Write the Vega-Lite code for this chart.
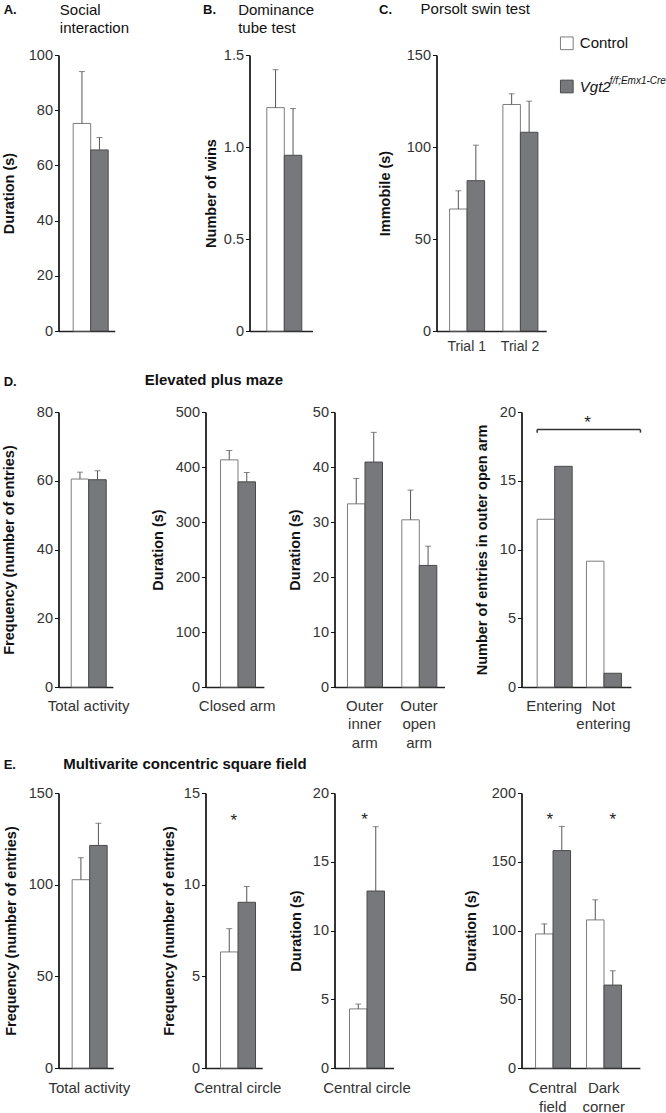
{
  "$schema": "https://vega.github.io/schema/vega-lite/v6.json",
  "background": "white",
  "padding": {"left": 0.5, "top": 1, "right": 0, "bottom": 0},
  "autosize": {"type": "pad"},
  "bounds": "flush",
  "columns": 7,
  "align": "each",
  "spacing": {"row": 81, "column": 0},
  "config": {
    "view": {"stroke": null},
    "font": "Liberation Sans",
    "axis": {"grid": false, "domainColor": "#111111", "domainWidth": 1.7, "tickColor": "#111111", "tickWidth": 1, "tickSize": 4, "labelColor": "#333333", "labelFont": "Liberation Sans", "labelFontSize": 14.5, "labelPadding": 2, "titleFont": "Liberation Sans", "titleFontSize": 14.5, "titleFontWeight": "bold", "titleColor": "#111111"},
    "axisX": {"ticks": false, "labelAngle": 0, "labelLineHeight": 18.3, "domainWidth": 1.5, "domainColor": "#222222"},
    "title": {"anchor": "start", "frame": "group", "font": "Liberation Sans", "fontSize": 15, "fontWeight": "normal", "color": "#111111", "lineHeight": 18.4},
    "text": {"font": "Liberation Sans"}
  },
  "datasets": {
    "barsA": [
      {"cat": "all", "group": "Control", "value": 75.2, "err": 94.0},
      {"cat": "all", "group": "Vgt2", "value": 65.6, "err": 70.1}
    ],
    "barsB": [
      {"cat": "all", "group": "Control", "value": 1.214, "err": 1.42},
      {"cat": "all", "group": "Vgt2", "value": 0.955, "err": 1.209}
    ],
    "barsC": [
      {"cat": "Trial 1", "group": "Control", "value": 66.3, "err": 76.2},
      {"cat": "Trial 1", "group": "Vgt2", "value": 81.7, "err": 101.0},
      {"cat": "Trial 2", "group": "Control", "value": 123.1, "err": 128.9},
      {"cat": "Trial 2", "group": "Vgt2", "value": 108.0, "err": 124.9}
    ],
    "barsD1": [
      {"cat": "Total activity", "group": "Control", "value": 60.5, "err": 62.5},
      {"cat": "Total activity", "group": "Vgt2", "value": 60.3, "err": 62.9}
    ],
    "barsD2": [
      {"cat": "Closed arm", "group": "Control", "value": 413, "err": 430},
      {"cat": "Closed arm", "group": "Vgt2", "value": 373, "err": 390}
    ],
    "barsD3": [
      {"cat": "Outer|inner|arm", "group": "Control", "value": 33.3, "err": 37.9},
      {"cat": "Outer|inner|arm", "group": "Vgt2", "value": 40.9, "err": 46.3},
      {"cat": "Outer|open|arm", "group": "Control", "value": 30.4, "err": 35.8},
      {"cat": "Outer|open|arm", "group": "Vgt2", "value": 22.1, "err": 25.6}
    ],
    "barsD4": [
      {"cat": "Entering", "group": "Control", "value": 12.2},
      {"cat": "Entering", "group": "Vgt2", "value": 16.05},
      {"cat": "Not|entering", "group": "Control", "value": 9.15},
      {"cat": "Not|entering", "group": "Vgt2", "value": 1.0}
    ],
    "barsE1": [
      {"cat": "Total activity", "group": "Control", "value": 102.7, "err": 114.7},
      {"cat": "Total activity", "group": "Vgt2", "value": 121.4, "err": 133.5}
    ],
    "barsE2": [
      {"cat": "Central circle", "group": "Control", "value": 6.33, "err": 7.6},
      {"cat": "Central circle", "group": "Vgt2", "value": 9.04, "err": 9.9}
    ],
    "barsE3": [
      {"cat": "Central circle", "group": "Control", "value": 4.3, "err": 4.65},
      {"cat": "Central circle", "group": "Vgt2", "value": 12.87, "err": 17.55}
    ],
    "barsE4": [
      {"cat": "Central|field", "group": "Control", "value": 97.5, "err": 104.8},
      {"cat": "Central|field", "group": "Vgt2", "value": 158.1, "err": 175.7},
      {"cat": "Dark|corner", "group": "Control", "value": 107.7, "err": 122.3},
      {"cat": "Dark|corner", "group": "Vgt2", "value": 60.3, "err": 70.7}
    ],
    "bracketD4": [{"a": "Entering", "b": "Not|entering", "y": 18.72, "y2": 18.5}],
    "starD4": [{"cat": "Not|entering", "value": 19.18}],
    "starE2": [{"cat": "Central circle", "value": 13.46}],
    "starE3": [{"cat": "Central circle", "value": 18.07}],
    "starE4": [{"cat": "Central|field", "value": 180.7}],
    "starE4b": [{"cat": "Dark|corner", "group": "Vgt2", "value": 180.7}],
    "legend": [
      {"group": "Control", "label": "Control", "sup": ""},
      {"group": "Vgt2", "label": "Vgt2", "sup": "f/f;Emx1-Cre"}
    ],
    "empty": []
  },
  "concat": [
    {
      "width": 146.3, "height": 276,
      "title": {"text": ["Social", "interaction"], "dx": 1.3, "offset": -32.65},
      "data": {"name": "barsA"},
      "encoding": {
        "x": {"field": "cat", "type": "nominal", "sort": null, "title": "A.", "scale": {"range": [0, 56.3], "paddingInner": 0, "paddingOuter": 0.304, "align": 0.69}, "axis": {"labels": false, "titleX": -55.3, "titleY": -317.6, "titleAlign": "left", "titleBaseline": "alphabetic", "titleAngle": 0, "titleFontSize": 13}},
        "y": {"field": "value", "type": "quantitative", "title": "Duration (s)", "scale": {"domain": [0, 100]}, "axis": {"values": [0, 20, 40, 60, 80, 100], "titleX": -42}}
      },
      "layer": [
        {"mark": {"type": "bar", "strokeWidth": 1}, "encoding": {"xOffset": {"field": "group", "type": "nominal", "sort": ["Control", "Vgt2"]}, "fill": {"field": "group", "type": "nominal", "scale": {"domain": ["Control", "Vgt2"], "range": ["#ffffff", "#77787b"]}, "legend": null}, "stroke": {"field": "group", "type": "nominal", "scale": {"domain": ["Control", "Vgt2"], "range": ["#7d7d7d", "#4a4a4a"]}, "legend": null}}},
        {"mark": {"type": "rule", "color": "#555555", "strokeWidth": 1}, "encoding": {"xOffset": {"field": "group", "type": "nominal"}, "y2": {"field": "err"}}},
        {"mark": {"type": "tick", "color": "#555555", "size": 6, "thickness": 1}, "encoding": {"xOffset": {"field": "group", "type": "nominal"}, "y": {"field": "err", "type": "quantitative", "title": "Duration (s)"}}}
      ]
    },
    {"width": 43.7, "height": 10, "data": {"name": "empty"}, "mark": {"type": "point", "opacity": 0}},
    {
      "width": 84.7, "height": 276,
      "title": {"text": ["Dominance", "tube test"], "dx": -11.3, "offset": -32.65},
      "data": {"name": "barsB"},
      "encoding": {
        "x": {"field": "cat", "type": "nominal", "sort": null, "title": "B.", "scale": {"range": [0, 63], "paddingInner": 0, "paddingOuter": 0.408, "align": 0.611}, "axis": {"labels": false, "titleX": -47, "titleY": -317.6, "titleAlign": "left", "titleBaseline": "alphabetic", "titleAngle": 0, "titleFontSize": 13}},
        "y": {"field": "value", "type": "quantitative", "title": "Number of wins", "scale": {"domain": [0, 1.5]}, "axis": {"values": [0, 0.5, 1, 1.5], "labelExpr": "datum.value == 0 ? '0' : format(datum.value, '.1f')", "titleX": -30.7}}
      },
      "layer": [
        {"mark": {"type": "bar", "strokeWidth": 1}, "encoding": {"xOffset": {"field": "group", "type": "nominal", "sort": ["Control", "Vgt2"]}, "fill": {"field": "group", "type": "nominal", "scale": {"domain": ["Control", "Vgt2"], "range": ["#ffffff", "#77787b"]}, "legend": null}, "stroke": {"field": "group", "type": "nominal", "scale": {"domain": ["Control", "Vgt2"], "range": ["#7d7d7d", "#4a4a4a"]}, "legend": null}}},
        {"mark": {"type": "rule", "color": "#555555", "strokeWidth": 1}, "encoding": {"xOffset": {"field": "group", "type": "nominal"}, "y2": {"field": "err"}}},
        {"mark": {"type": "tick", "color": "#555555", "size": 6, "thickness": 1}, "encoding": {"xOffset": {"field": "group", "type": "nominal"}, "y": {"field": "err", "type": "quantitative", "title": "Number of wins"}}}
      ]
    },
    {"width": 101.9, "height": 10, "data": {"name": "empty"}, "mark": {"type": "point", "opacity": 0}},
    {
      "width": 84.7, "height": 276,
      "title": {"text": "Porsolt swin test", "dx": -15.9, "offset": -13.15},
      "data": {"name": "barsC"},
      "encoding": {
        "x": {"field": "cat", "type": "nominal", "sort": null, "title": "C.", "scale": {"range": [0, 109.7], "paddingInner": 0.356, "paddingOuter": 0.207, "align": 0.593}, "axis": {"labelFontSize": 14, "labelPadding": 8.2, "titleX": -57.9, "titleY": -317.6, "titleAlign": "left", "titleBaseline": "alphabetic", "titleAngle": 0, "titleFontSize": 13}},
        "y": {"field": "value", "type": "quantitative", "title": "Immobile (s)", "scale": {"domain": [0, 150]}, "axis": {"values": [0, 50, 100, 150], "titleX": -43.6}}
      },
      "layer": [
        {"mark": {"type": "bar", "strokeWidth": 1}, "encoding": {"xOffset": {"field": "group", "type": "nominal", "sort": ["Control", "Vgt2"]}, "fill": {"field": "group", "type": "nominal", "scale": {"domain": ["Control", "Vgt2"], "range": ["#ffffff", "#77787b"]}, "legend": null}, "stroke": {"field": "group", "type": "nominal", "scale": {"domain": ["Control", "Vgt2"], "range": ["#7d7d7d", "#4a4a4a"]}, "legend": null}}},
        {"mark": {"type": "rule", "color": "#555555", "strokeWidth": 1}, "encoding": {"xOffset": {"field": "group", "type": "nominal"}, "y2": {"field": "err"}}},
        {"mark": {"type": "tick", "color": "#555555", "size": 6, "thickness": 1}, "encoding": {"xOffset": {"field": "group", "type": "nominal"}, "y": {"field": "err", "type": "quantitative", "title": "Immobile (s)"}}}
      ]
    },
    {"width": 38.4, "height": 10, "data": {"name": "empty"}, "mark": {"type": "point", "opacity": 0}},
    {
      "width": 12.6, "height": 276,
      "data": {"name": "legend"},
      "encoding": {
        "y": {"field": "group", "type": "nominal", "scale": {"type": "point", "domain": ["Control", "Vgt2"], "range": [-11.7, 31.5], "padding": 0}, "axis": null}
      },
      "layer": [
        {"mark": {"type": "square", "size": 161, "strokeWidth": 1, "opacity": 1}, "encoding": {"fill": {"field": "group", "type": "nominal", "scale": {"domain": ["Control", "Vgt2"], "range": ["#ffffff", "#77787b"]}, "legend": null}, "stroke": {"field": "group", "type": "nominal", "scale": {"domain": ["Control", "Vgt2"], "range": ["#6d6d6d", "#4a4a4a"]}, "legend": null}}},
        {"transform": [{"filter": "datum.group === 'Control'"}], "mark": {"type": "text", "align": "left", "dx": 13, "fontSize": 15, "baseline": "middle", "color": "#111111"}, "encoding": {"text": {"field": "label"}}},
        {"transform": [{"filter": "datum.group === 'Vgt2'"}], "mark": {"type": "text", "align": "left", "dx": 13, "fontSize": 15, "fontStyle": "italic", "baseline": "middle", "color": "#111111"}, "encoding": {"text": {"field": "label"}}},
        {"transform": [{"filter": "datum.group === 'Vgt2'"}], "mark": {"type": "text", "align": "left", "dx": 43, "dy": -5.5, "fontSize": 10, "fontStyle": "italic", "baseline": "middle", "color": "#111111"}, "encoding": {"text": {"field": "sup"}}}
      ]
    },
    {
      "width": 146.3, "height": 300,
      "title": {"text": "Elevated plus maze", "fontWeight": "bold", "dx": 86.3, "offset": -13.15},
      "data": {"name": "barsD1"},
      "encoding": {
        "x": {"field": "cat", "type": "nominal", "sort": null, "title": "D.", "scale": {"range": [0, 54.4], "paddingInner": 0, "paddingOuter": 0.284, "align": 0.645}, "axis": {"labelFontSize": 15, "labelPadding": 11.5, "offset": -25, "titleX": -55.3, "titleY": -301.7, "titleAlign": "left", "titleBaseline": "alphabetic", "titleAngle": 0, "titleFontSize": 13}},
        "y": {"field": "value", "type": "quantitative", "title": "Frequency (number of entries)", "scale": {"domain": [0, 80], "range": [275, 0]}, "axis": {"values": [0, 20, 40, 60, 80], "titleX": -42}}
      },
      "layer": [
        {"mark": {"type": "bar", "strokeWidth": 1}, "encoding": {"xOffset": {"field": "group", "type": "nominal", "sort": ["Control", "Vgt2"]}, "fill": {"field": "group", "type": "nominal", "scale": {"domain": ["Control", "Vgt2"], "range": ["#ffffff", "#77787b"]}, "legend": null}, "stroke": {"field": "group", "type": "nominal", "scale": {"domain": ["Control", "Vgt2"], "range": ["#7d7d7d", "#4a4a4a"]}, "legend": null}}},
        {"mark": {"type": "rule", "color": "#555555", "strokeWidth": 1}, "encoding": {"xOffset": {"field": "group", "type": "nominal"}, "y2": {"field": "err"}}},
        {"mark": {"type": "tick", "color": "#555555", "size": 6, "thickness": 1}, "encoding": {"xOffset": {"field": "group", "type": "nominal"}, "y": {"field": "err", "type": "quantitative", "title": "Frequency (number of entries)"}}}
      ]
    },
    {
      "width": 43.7, "height": 300,
      "data": {"name": "barsD2"},
      "encoding": {
        "x": {"field": "cat", "type": "nominal", "sort": null, "title": null, "scale": {"range": [0, 58.4], "paddingInner": 0, "paddingOuter": 0.374, "align": 0.6}, "axis": {"labelFontSize": 15, "labelPadding": 11.5, "offset": -25}},
        "y": {"field": "value", "type": "quantitative", "title": "Duration (s)", "scale": {"domain": [0, 500], "range": [275, 0]}, "axis": {"values": [0, 100, 200, 300, 400, 500], "titleX": -40}}
      },
      "layer": [
        {"mark": {"type": "bar", "strokeWidth": 1}, "encoding": {"xOffset": {"field": "group", "type": "nominal", "sort": ["Control", "Vgt2"]}, "fill": {"field": "group", "type": "nominal", "scale": {"domain": ["Control", "Vgt2"], "range": ["#ffffff", "#77787b"]}, "legend": null}, "stroke": {"field": "group", "type": "nominal", "scale": {"domain": ["Control", "Vgt2"], "range": ["#7d7d7d", "#4a4a4a"]}, "legend": null}}},
        {"mark": {"type": "rule", "color": "#555555", "strokeWidth": 1}, "encoding": {"xOffset": {"field": "group", "type": "nominal"}, "y2": {"field": "err"}}},
        {"mark": {"type": "tick", "color": "#555555", "size": 6, "thickness": 1}, "encoding": {"xOffset": {"field": "group", "type": "nominal"}, "y": {"field": "err", "type": "quantitative", "title": "Duration (s)"}}}
      ]
    },
    {"width": 84.7, "height": 10, "data": {"name": "empty"}, "mark": {"type": "point", "opacity": 0}},
    {
      "width": 101.9, "height": 300,
      "data": {"name": "barsD3"},
      "encoding": {
        "x": {"field": "cat", "type": "nominal", "sort": null, "title": null, "scale": {"range": [0, 110], "paddingInner": 0.363, "paddingOuter": 0.194, "align": 0.616}, "axis": {"labelFontSize": 15, "labelPadding": 11.5, "offset": -25, "labelExpr": "split(datum.label, '|')"}},
        "y": {"field": "value", "type": "quantitative", "title": "Duration (s)", "scale": {"domain": [0, 50], "range": [275, 0]}, "axis": {"values": [0, 10, 20, 30, 40, 50], "titleX": -31.7}}
      },
      "layer": [
        {"mark": {"type": "bar", "strokeWidth": 1}, "encoding": {"xOffset": {"field": "group", "type": "nominal", "sort": ["Control", "Vgt2"]}, "fill": {"field": "group", "type": "nominal", "scale": {"domain": ["Control", "Vgt2"], "range": ["#ffffff", "#77787b"]}, "legend": null}, "stroke": {"field": "group", "type": "nominal", "scale": {"domain": ["Control", "Vgt2"], "range": ["#7d7d7d", "#4a4a4a"]}, "legend": null}}},
        {"mark": {"type": "rule", "color": "#555555", "strokeWidth": 1}, "encoding": {"xOffset": {"field": "group", "type": "nominal"}, "y2": {"field": "err"}}},
        {"mark": {"type": "tick", "color": "#555555", "size": 6, "thickness": 1}, "encoding": {"xOffset": {"field": "group", "type": "nominal"}, "y": {"field": "err", "type": "quantitative", "title": "Duration (s)"}}}
      ]
    },
    {"width": 84.7, "height": 10, "data": {"name": "empty"}, "mark": {"type": "point", "opacity": 0}},
    {
      "width": 38.4, "height": 300,
      "data": {"name": "barsD4"},
      "encoding": {
        "x": {"field": "cat", "type": "nominal", "sort": null, "title": null, "scale": {"range": [0, 109.4], "paddingInner": 0.31, "paddingOuter": 0.265, "align": 0.6}, "axis": {"labelFontSize": 15, "labelPadding": 11.5, "offset": -25, "labelExpr": "split(datum.label, '|')"}},
        "y": {"field": "value", "type": "quantitative", "title": "Number of entries in outer open arm", "scale": {"domain": [0, 20], "range": [275, 0]}, "axis": {"values": [0, 5, 10, 15, 20], "titleX": -31.6}}
      },
      "layer": [
        {"mark": {"type": "bar", "strokeWidth": 1}, "encoding": {"xOffset": {"field": "group", "type": "nominal", "sort": ["Control", "Vgt2"]}, "fill": {"field": "group", "type": "nominal", "scale": {"domain": ["Control", "Vgt2"], "range": ["#ffffff", "#77787b"]}, "legend": null}, "stroke": {"field": "group", "type": "nominal", "scale": {"domain": ["Control", "Vgt2"], "range": ["#7d7d7d", "#4a4a4a"]}, "legend": null}}},
        {"data": {"name": "bracketD4"}, "mark": {"type": "rule", "color": "#333333", "strokeWidth": 1.5, "xOffset": -17, "x2Offset": 37}, "encoding": {"x": {"field": "a", "type": "nominal", "sort": null, "title": null}, "x2": {"field": "b"}, "y": {"field": "y", "type": "quantitative", "title": "Number of entries in outer open arm"}}},
        {"data": {"name": "bracketD4"}, "mark": {"type": "rule", "color": "#333333", "strokeWidth": 1.5, "xOffset": -17}, "encoding": {"x": {"field": "a", "type": "nominal", "sort": null, "title": null}, "y": {"field": "y", "type": "quantitative", "title": "Number of entries in outer open arm"}, "y2": {"field": "y2"}}},
        {"data": {"name": "bracketD4"}, "mark": {"type": "rule", "color": "#333333", "strokeWidth": 1.5, "xOffset": 37}, "encoding": {"x": {"field": "b", "type": "nominal", "sort": null, "title": null}, "y": {"field": "y", "type": "quantitative", "title": "Number of entries in outer open arm"}, "y2": {"field": "y2"}}},
        {"data": {"name": "starD4"}, "mark": {"type": "text", "text": "*", "fontSize": 17, "dx": -16, "baseline": "middle", "color": "#222222"}, "encoding": {"y": {"field": "value", "type": "quantitative", "title": "Number of entries in outer open arm"}}}
      ]
    },
    {"width": 12.6, "height": 10, "data": {"name": "empty"}, "mark": {"type": "point", "opacity": 0}},
    {
      "width": 146.3, "height": 275,
      "title": {"text": "Multivarite concentric square field", "fontWeight": "bold", "dx": 4.7, "offset": -13.15},
      "data": {"name": "barsE1"},
      "encoding": {
        "x": {"field": "cat", "type": "nominal", "sort": null, "title": "E.", "scale": {"range": [0, 54.7], "paddingInner": 0, "paddingOuter": 0.297, "align": 0.67}, "axis": {"labelFontSize": 15, "labelPadding": 12.9, "titleX": -55.3, "titleY": -299.6, "titleAlign": "left", "titleBaseline": "alphabetic", "titleAngle": 0, "titleFontSize": 13}},
        "y": {"field": "value", "type": "quantitative", "title": "Frequency (number of entries)", "scale": {"domain": [0, 150]}, "axis": {"values": [0, 50, 100, 150], "titleX": -40.3}}
      },
      "layer": [
        {"mark": {"type": "bar", "strokeWidth": 1}, "encoding": {"xOffset": {"field": "group", "type": "nominal", "sort": ["Control", "Vgt2"]}, "fill": {"field": "group", "type": "nominal", "scale": {"domain": ["Control", "Vgt2"], "range": ["#ffffff", "#77787b"]}, "legend": null}, "stroke": {"field": "group", "type": "nominal", "scale": {"domain": ["Control", "Vgt2"], "range": ["#7d7d7d", "#4a4a4a"]}, "legend": null}}},
        {"mark": {"type": "rule", "color": "#555555", "strokeWidth": 1}, "encoding": {"xOffset": {"field": "group", "type": "nominal"}, "y2": {"field": "err"}}},
        {"mark": {"type": "tick", "color": "#555555", "size": 6, "thickness": 1}, "encoding": {"xOffset": {"field": "group", "type": "nominal"}, "y": {"field": "err", "type": "quantitative", "title": "Frequency (number of entries)"}}}
      ]
    },
    {
      "width": 43.7, "height": 275,
      "data": {"name": "barsE2"},
      "encoding": {
        "x": {"field": "cat", "type": "nominal", "sort": null, "title": null, "scale": {"range": [0, 56.7], "paddingInner": 0, "paddingOuter": 0.324, "align": 0.673}, "axis": {"labelFontSize": 15, "labelPadding": 12.9}},
        "y": {"field": "value", "type": "quantitative", "title": "Frequency (number of entries)", "scale": {"domain": [0, 15]}, "axis": {"values": [0, 5, 10, 15], "titleX": -29.3}}
      },
      "layer": [
        {"mark": {"type": "bar", "strokeWidth": 1}, "encoding": {"xOffset": {"field": "group", "type": "nominal", "sort": ["Control", "Vgt2"]}, "fill": {"field": "group", "type": "nominal", "scale": {"domain": ["Control", "Vgt2"], "range": ["#ffffff", "#77787b"]}, "legend": null}, "stroke": {"field": "group", "type": "nominal", "scale": {"domain": ["Control", "Vgt2"], "range": ["#7d7d7d", "#4a4a4a"]}, "legend": null}}},
        {"mark": {"type": "rule", "color": "#555555", "strokeWidth": 1}, "encoding": {"xOffset": {"field": "group", "type": "nominal"}, "y2": {"field": "err"}}},
        {"mark": {"type": "tick", "color": "#555555", "size": 6, "thickness": 1}, "encoding": {"xOffset": {"field": "group", "type": "nominal"}, "y": {"field": "err", "type": "quantitative", "title": "Frequency (number of entries)"}}},
        {"data": {"name": "starE2"}, "mark": {"type": "text", "text": "*", "fontSize": 17, "dx": -4, "baseline": "middle", "color": "#222222"}, "encoding": {"y": {"field": "value", "type": "quantitative", "title": "Frequency (number of entries)"}}}
      ]
    },
    {"width": 84.7, "height": 10, "data": {"name": "empty"}, "mark": {"type": "point", "opacity": 0}},
    {
      "width": 101.9, "height": 275,
      "data": {"name": "barsE3"},
      "encoding": {
        "x": {"field": "cat", "type": "nominal", "sort": null, "title": null, "scale": {"range": [0, 59], "paddingInner": 0, "paddingOuter": 0.343, "align": 0.625}, "axis": {"labelFontSize": 15, "labelPadding": 12.9}},
        "y": {"field": "value", "type": "quantitative", "title": "Duration (s)", "scale": {"domain": [0, 20]}, "axis": {"values": [0, 5, 10, 15, 20], "titleX": -31}}
      },
      "layer": [
        {"mark": {"type": "bar", "strokeWidth": 1}, "encoding": {"xOffset": {"field": "group", "type": "nominal", "sort": ["Control", "Vgt2"]}, "fill": {"field": "group", "type": "nominal", "scale": {"domain": ["Control", "Vgt2"], "range": ["#ffffff", "#77787b"]}, "legend": null}, "stroke": {"field": "group", "type": "nominal", "scale": {"domain": ["Control", "Vgt2"], "range": ["#7d7d7d", "#4a4a4a"]}, "legend": null}}},
        {"mark": {"type": "rule", "color": "#555555", "strokeWidth": 1}, "encoding": {"xOffset": {"field": "group", "type": "nominal"}, "y2": {"field": "err"}}},
        {"mark": {"type": "tick", "color": "#555555", "size": 6, "thickness": 1}, "encoding": {"xOffset": {"field": "group", "type": "nominal"}, "y": {"field": "err", "type": "quantitative", "title": "Duration (s)"}}},
        {"data": {"name": "starE3"}, "mark": {"type": "text", "text": "*", "fontSize": 17, "dx": -2.5, "baseline": "middle", "color": "#222222"}, "encoding": {"y": {"field": "value", "type": "quantitative", "title": "Duration (s)"}}}
      ]
    },
    {"width": 84.7, "height": 10, "data": {"name": "empty"}, "mark": {"type": "point", "opacity": 0}},
    {
      "width": 38.4, "height": 275,
      "data": {"name": "barsE4"},
      "encoding": {
        "x": {"field": "cat", "type": "nominal", "sort": null, "title": null, "scale": {"range": [0, 118.4], "paddingInner": 0.324, "paddingOuter": 0.323, "align": 0.426}, "axis": {"labelFontSize": 15, "labelPadding": 12.9, "labelExpr": "split(datum.label, '|')"}},
        "y": {"field": "value", "type": "quantitative", "title": "Duration (s)", "scale": {"domain": [0, 200]}, "axis": {"values": [0, 50, 100, 150, 200], "titleX": -42.6}}
      },
      "layer": [
        {"mark": {"type": "bar", "strokeWidth": 1}, "encoding": {"xOffset": {"field": "group", "type": "nominal", "sort": ["Control", "Vgt2"]}, "fill": {"field": "group", "type": "nominal", "scale": {"domain": ["Control", "Vgt2"], "range": ["#ffffff", "#77787b"]}, "legend": null}, "stroke": {"field": "group", "type": "nominal", "scale": {"domain": ["Control", "Vgt2"], "range": ["#7d7d7d", "#4a4a4a"]}, "legend": null}}},
        {"mark": {"type": "rule", "color": "#555555", "strokeWidth": 1}, "encoding": {"xOffset": {"field": "group", "type": "nominal"}, "y2": {"field": "err"}}},
        {"mark": {"type": "tick", "color": "#555555", "size": 6, "thickness": 1}, "encoding": {"xOffset": {"field": "group", "type": "nominal"}, "y": {"field": "err", "type": "quantitative", "title": "Duration (s)"}}},
        {"data": {"name": "starE4"}, "mark": {"type": "text", "text": "*", "fontSize": 17, "dx": -3, "baseline": "middle", "color": "#222222"}, "encoding": {"y": {"field": "value", "type": "quantitative", "title": "Duration (s)"}}},
        {"data": {"name": "starE4b"}, "mark": {"type": "text", "text": "*", "fontSize": 17, "baseline": "middle", "color": "#222222"}, "encoding": {"xOffset": {"field": "group", "type": "nominal"}, "y": {"field": "value", "type": "quantitative", "title": "Duration (s)"}}}
      ]
    },
    {"width": 12.6, "height": 10, "data": {"name": "empty"}, "mark": {"type": "point", "opacity": 0}}
  ]
}
